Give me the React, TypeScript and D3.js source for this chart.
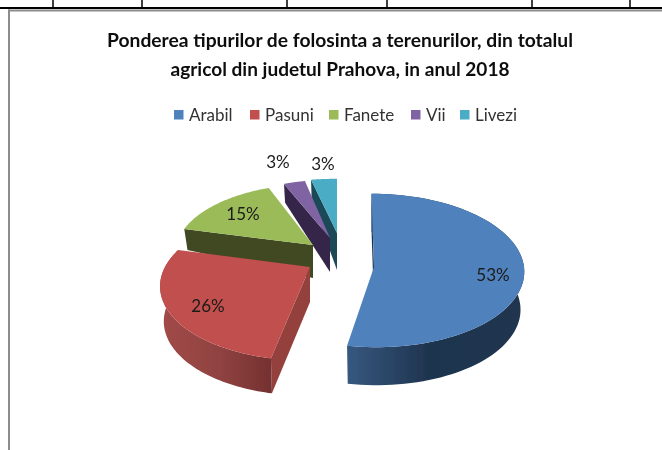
import React from "react";
import * as d3 from "d3";

const categories = ["Arabil", "Pasuni", "Fanete", "Vii", "Livezi"];
const shares = [53, 26, 15, 3, 3];
const titleLines = [
  "Ponderea tipurilor de folosinta a terenurilor, din totalul",
  "agricol din judetul Prahova,  in anul 2018",
];
const titleWidths = [466, 339];
const topColors = ["#4f81bd", "#c0504d", "#9bbb59", "#8064a2", "#4bacc6"];
const sideStops = [
  ["#37587f", "#1f3550", "#203650"],
  ["#a24a48", "#8f4241", "#753130"],
  ["#3f4a24", "#3f4a24", "#3f4a24"],
  ["#35284a", "#35284a", "#35284a"],
  ["#1d4a58", "#1d4a58", "#1d4a58"],
];
const radialFaces = ["#1f3550", "#943f3d", "#3f4a24", "#35284a", "#1d4a58"];
// explosion and perspective of each slice
const sliceLayout = [
  { ax: 374, ay: 267, rx: 150, ry: 76.6, k: 0.045, sk: 2.5, d: 38, g: 0 },
  { ax: 310, ay: 267, rx: 145, ry: 72, k: 0.23, sk: -4, d: 35, g: 0 },
  { ax: 313, ay: 245, rx: 136, ry: 65.4, k: 0.07, sk: -3, d: 33, g: 0.75 },
  { ax: 330, ay: 238, rx: 124, ry: 62, k: 0.07, sk: 3.4, d: 34, g: 0.28 },
  { ax: 337, ay: 233, rx: 148, ry: 58, k: 0.07, sk: 0, d: 37, g: 0.3 },
];
const labelPos = [[493, 281], [208, 312], [243, 220], [278, 168], [323, 170]];
const legendX = [174, 250, 329, 411, 460];
const ruleTicks = [53, 142, 287, 387, 532, 630];
const FONT = "Lato, 'Open Sans', sans-serif";

const pieGen = d3.pie<number>().sort(null).value((d) => d);
const arcs = pieGen(shares);

function project(i: number, th: number) {
  const l = sliceLayout[i];
  const s = 1 / (1 + l.k * Math.cos(th));
  return [
    l.ax + l.rx * Math.sin(th) * s - l.sk * Math.cos(th),
    l.ay - l.ry * Math.cos(th) * s,
  ];
}
function lower(i: number, p: number[]) {
  const l = sliceLayout[i];
  const dep = l.d + l.g * Math.min(0, p[1] - l.ay);
  return [l.ax + (p[0] - l.ax) * 0.975, p[1] + dep];
}
const line = d3.line();

export default function App() {
  return (
    <svg width={662} height={450} style={{ position: "absolute", left: 0, top: 0, display: "block" }}>
      <defs>
        <filter id="soft"><feGaussianBlur stdDeviation="0.4" /></filter>
        {arcs.map((a, i) => {
          const rim = d3.range(0, 41).map((t) => project(i, a.startAngle + (a.endAngle - a.startAngle) * t / 40));
          const xs = d3.extent(rim, (p) => p[0]) as [number, number];
          return (
            <linearGradient key={i} id={`side${i}`} gradientUnits="userSpaceOnUse" x1={i === 1 ? xs[0] : xs[1]} x2={i === 1 ? xs[1] : xs[0]} y1={0} y2={0}>
              <stop offset="0%" stopColor={sideStops[i][i === 1 ? 0 : 2]} />
              <stop offset="55%" stopColor={sideStops[i][1]} />
              <stop offset="100%" stopColor={sideStops[i][i === 1 ? 2 : 0]} />
            </linearGradient>
          );
        })}
      </defs>
      <g>
        <rect x={0} y={7} width={662} height={2} fill="#000" />
        {ruleTicks.map((x) => <rect key={x} x={x - 0.75} y={0} width={1.5} height={8} fill="#000" />)}
        <rect x={8} y={9.5} width={654} height={2} fill="#8c8c8c" />
        <rect x={8} y={9.5} width={2} height={440.5} fill="#8c8c8c" />
      </g>
      <g filter="url(#soft)">
        {titleLines.map((t, i) => (
          <text key={i} x={340} y={47 + i * 28.5} textAnchor="middle" textLength={titleWidths[i]} lengthAdjust="spacingAndGlyphs" fontFamily={FONT} fontWeight={700} fontSize={18.5} fill="#111">{t}</text>
        ))}
        {categories.map((c, i) => (
          <g key={c}>
            <rect x={legendX[i]} y={110} width={9.5} height={9.5} fill={topColors[i]} />
            <text x={legendX[i] + 15} y={121} fontFamily={FONT} fontSize={17} fill="#333">{c}</text>
          </g>
        ))}
        {[4, 3, 2, 1, 0].map((i) => {
          const a = arcs[i];
          const l = sliceLayout[i];
          const apex = [l.ax, l.ay];
          const rim = d3.range(0, 81).map((t) => project(i, a.startAngle + (a.endAngle - a.startAngle) * t / 80));
          const rimLow = rim.map((p) => lower(i, p));
          const apexLow = [l.ax, l.ay + l.d];
          const first = rim[0];
          return (
            <g key={i}>
              <path d={line([apex, first, lower(i, first), apexLow]) + "Z"} fill={radialFaces[i]} />
              <path d={line([...rim, ...rimLow.slice().reverse()]) + "Z"} fill={i >= 2 ? "none" : `url(#side${i})`} />
              <path d={line([apex, ...rim]) + "Z"} fill={topColors[i]} />
            </g>
          );
        })}
        {shares.map((v, i) => (
          <text key={i} x={labelPos[i][0]} y={labelPos[i][1]} textAnchor="middle" fontFamily={FONT} fontSize={17} fill="#1a1a1a">{v}%</text>
        ))}
      </g>
    </svg>
  );
}
